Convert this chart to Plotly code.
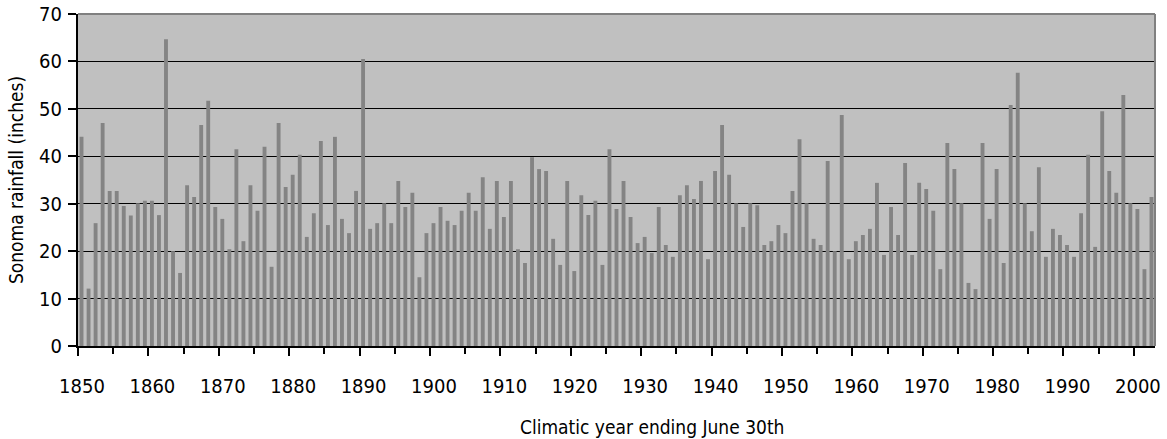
import plotly.graph_objects as go

years = list(range(1850, 2003))
rain = [
    44.1, 12.1, 25.9, 47.0, 32.7, 32.7, 29.5, 27.5, 30.1, 30.6,   # 1850-1859
    30.6, 27.6, 64.7, 20.0, 15.4, 33.9, 31.4, 46.6, 51.7, 29.3,   # 1860-1869
    26.8, 20.4, 41.5, 22.1, 33.9, 28.5, 42.0, 16.7, 47.0, 33.5,   # 1870-1879
    36.1, 40.3, 23.0, 28.0, 43.2, 25.5, 44.1, 26.8, 23.8, 32.7,   # 1880-1889
    60.5, 24.7, 25.9, 30.1, 25.9, 34.8, 29.3, 32.3, 14.5, 23.8,   # 1890-1899
    25.9, 29.3, 26.4, 25.5, 28.5, 32.3, 28.5, 35.6, 24.7, 34.8,   # 1900-1909
    27.2, 34.8, 20.4, 17.5, 39.8, 37.3, 36.9, 22.6, 17.1, 34.8,   # 1910-1919
    15.8, 31.8, 27.6, 30.6, 17.1, 41.5, 28.9, 34.8, 27.2, 21.7,   # 1920-1929
    23.0, 19.6, 29.3, 21.3, 18.8, 31.8, 33.9, 31.0, 34.8, 18.3,   # 1930-1939
    36.9, 46.6, 36.1, 30.1, 25.1, 30.1, 29.7, 21.3, 22.1, 25.5,   # 1940-1949
    23.8, 32.7, 43.6, 30.1, 22.6, 21.3, 39.0, 20.0, 48.7, 18.3,   # 1950-1959
    22.1, 23.4, 24.7, 34.4, 19.2, 29.3, 23.4, 38.6, 19.2, 34.4,   # 1960-1969
    33.1, 28.5, 16.2, 42.8, 37.3, 30.1, 13.3, 12.0, 42.8, 26.8,   # 1970-1979
    37.3, 17.5, 50.8, 57.6, 30.1, 24.2, 37.7, 18.8, 24.7, 23.4,   # 1980-1989
    21.3, 18.8, 28.0, 40.3, 20.9, 49.5, 36.9, 32.3, 52.9, 30.1,   # 1990-1999
    28.9, 16.2, 31.4,                                             # 2000-2002
]

label_years = list(range(1850, 2001, 10))
label_text = [str(y) for y in label_years]
y_ticks = list(range(0, 71, 10))

x_title = "Climatic year ending June 30th"
y_title = "Sonoma rainfall (inches)"

FONT = "DejaVu Sans Condensed, Liberation Sans, sans-serif"

fig = go.Figure()
fig.add_trace(go.Bar(
    x=years, y=rain,
    width=0.55,
    marker=dict(color="#848484", line=dict(width=0)),
    hovertemplate="%{x}: %{y} in<extra></extra>",
))

fig.update_layout(
    width=1167, height=439,
    margin=dict(l=78, r=12, t=14, b=93, autoexpand=False),
    paper_bgcolor="white",
    plot_bgcolor="#c0c0c0",
    showlegend=False,
    font=dict(family=FONT, size=16, color="black"),
    xaxis=dict(
        range=[1849.5, 2002.5],
        automargin=False,
        tickmode="array",
        tickvals=[y - 0.5 for y in label_years],
        ticktext=label_text,
        ticks="outside", ticklen=8, tickwidth=2, tickcolor="black",
        ticklabelshift=4,
        ticklabelstandoff=13,
        ticklabeloverflow="allow",
        minor=dict(tickmode="array",
                   tickvals=[y + 4.5 for y in label_years],
                   ticks="outside", ticklen=6, tickwidth=2, tickcolor="black"),
        showgrid=False,
        showline=True, linecolor="black", linewidth=2,
        tickfont=dict(size=20),
        zeroline=False,
    ),
    yaxis=dict(
        range=[0, 70],
        automargin=False,
        tickmode="array",
        tickvals=y_ticks,
        ticks="outside", ticklen=8, tickwidth=2, tickcolor="black",
        ticklabelstandoff=2,
        ticklabeloverflow="allow",
        showgrid=True, gridcolor="black", gridwidth=1,
        showline=True, linecolor="black", linewidth=2,
        tickfont=dict(size=20),
        title=dict(text=y_title, font=dict(size=19), standoff=10),
        zeroline=False,
    ),
    annotations=[
        dict(text=x_title, xref="paper", yref="paper", x=0.533, y=0,
             yshift=-81, xanchor="center", yanchor="middle",
             showarrow=False, font=dict(size=19)),
    ],
    shapes=[
        dict(type="line", xref="paper", yref="paper", x0=0, x1=1, y0=1, y1=1,
             line=dict(color="#808080", width=2), layer="above"),
        dict(type="line", xref="paper", yref="paper", x0=1, x1=1, y0=0, y1=1,
             line=dict(color="#808080", width=2), layer="above"),
    ],
)

fig.write_html("out.html",
               config={"displayModeBar": False},
               post_script="document.body.style.margin='0';document.body.style.overflow='hidden';")
